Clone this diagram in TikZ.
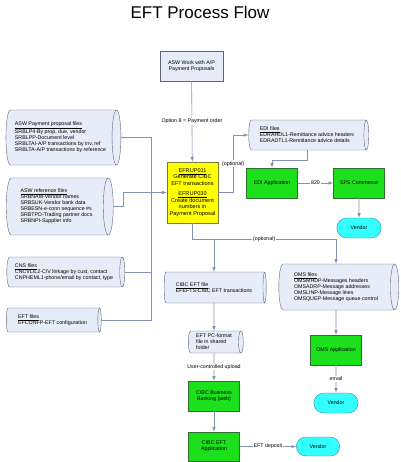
\documentclass[tikz,border=0pt]{standalone}
\usepackage{fontspec}
\setmainfont{Liberation Sans}
\usetikzlibrary{shapes.geometric,shapes.misc}
\definecolor{filebg}{HTML}{E6ECF8}
\definecolor{fileline}{HTML}{5E6678}
\definecolor{linec}{HTML}{8492B0}
\definecolor{tipc}{HTML}{4A5E9E}
\definecolor{appgreen}{HTML}{1BE01B}
\definecolor{appline}{HTML}{2E6E2E}
\definecolor{vendcyan}{HTML}{33FFFF}
\definecolor{vendline}{HTML}{3A8AA0}
\definecolor{progyel}{HTML}{FFFF00}
\definecolor{progline}{HTML}{7A7A3A}
\begin{document}
\begin{tikzpicture}[x=1pt, y=-1pt,
    small/.style={font=\fontsize{5.3}{6}\selectfont},
    file/.style={cylinder, draw=fileline, fill=filebg, aspect=0.27, align=left, inner sep=1pt, small},
    work/.style={rectangle, draw=fileline, fill=filebg, align=center, small},
    prog/.style={rectangle, draw=progline, fill=progyel, align=center, font=\fontsize{5.6}{6.7}\selectfont},
    app/.style={rectangle, draw=appline, fill=appgreen, align=center, minimum width=51pt, minimum height=30pt, small},
    vendor/.style={rounded rectangle, draw=vendline, fill=vendcyan, minimum width=51pt, minimum height=20pt, small},
    conn/.style={->, >=latex, draw=linec, line width=0.6pt},
    wire/.style={draw=linec, line width=0.6pt},
    lbl/.style={fill=white, inner sep=1pt, small}]
  \useasboundingbox (0,0) rectangle (400,462);
  \node[font=\fontsize{17}{20}\selectfont] (title) at (200,12) {EFT Process Flow};

  % main program
  \node[work, minimum width=63pt, minimum height=30pt] (asw) at (191.5,66) {ASW Work with A/P\\Payment Proposals};
  \node[prog, minimum width=51pt, minimum height=61pt, inner sep=1pt] (efr) at (192.5,192.5)
    {\underline{EFRUP011}\\Generate CIBC\\EFT transactions\\[3pt]\underline{EFRUP030}\\Create document\\numbers in\\Payment Proposal};

  % input files (cylinder: height is the axis, width the diameter)
  \node[file, minimum height=115pt, minimum width=55pt] (pp) at (60.5,137.5)
    {\underline{ASW Payment proposal files}\\SRBLP4-By prop, due, vendor\\SRBLPP-Document level\\SRBLTAI-A/P transactions by inv, ref\\SRBLTA-A/P transactions by reference};
  \node[file, minimum height=107pt, minimum width=57pt] (ref) at (56.5,206.5)
    {\underline{ASW reference files}\\SRBNAM-Vendor names\\SRBSUK-Vendor bank data\\SRBESN-e-conn sequence \#s\\SRBTPD-Trading partner docs\\SRBNPI-Supplier info};
  \node[file, minimum height=118pt, minimum width=30pt] (cns) at (64,272)
    {\underline{CNS files}\\CNCVLIL2-C/V linkage by cust, contact\\CNPHEML1-phone/email by contact, type};
  \node[file, minimum height=95pt, minimum width=24pt] (eftf) at (52.5,320)
    {\underline{EFT files}\\EFCONFP-EFT configuration};

  % EDI branch
  \node[file, minimum height=120pt, minimum width=30pt] (edif) at (307,135)
    {\underline{EDI files}\\EDRAHDL1-Remittance advice headers\\EDRADTL1-Remittance advice details};
  \node[app] (ediapp) at (272,183) {EDI Application};
  \node[app] (sps) at (359,183) {SPS Commerce};
  \node[vendor] (vend1) at (359,228) {Vendor};

  % CIBC branch
  \node[file, minimum height=102pt, minimum width=31pt] (cibcf) at (214,287.5)
    {\underline{CIBC EFT file}\\EFEFTS-CIBC EFT transactions};
  \node[file, minimum height=55pt, minimum width=22pt] (pcf) at (214,342)
    {EFT PC-format\\file in shared\\folder};
  \node[app] (cbb) at (214,396) {CIBC Business\\Banking (web)};
  \node[app, minimum height=29pt] (cea) at (214,446.5) {CIBC EFT\\Application};
  \node[vendor, minimum width=50pt, minimum height=19pt] (vend2) at (318,446.5) {Vendor};

  % OMS branch
  \node[file, minimum height=120pt, minimum width=46pt] (omsf) at (336,287)
    {\underline{OMS files}\\OMSMHDP-Messages headers\\OMSADRP-Message addresses\\OMSLINP-Message lines\\OMSQUEP-Message queue control};
  \node[app] (omsapp) at (336,350) {OMS Application};
  \node[vendor] (vend3) at (336,403) {Vendor};

  % connectors
  \coordinate (bus) at (151,192.5);
  \coordinate (optrow) at (0,239);
  \draw[conn] (asw) -- node[lbl, pos=0.5] {Option 8 = Payment order} (efr);
  \draw[wire] (pp.east) -| (bus);
  \draw[wire] (cns.east) -| (bus);
  \draw[wire] (eftf.east) -| (bus);
  \draw[conn] (ref.east) -- ++(10,0) |- (efr.west);
  \draw[conn] (efr.east) -- ++(15,0) |- node[lbl, pos=0.25] {(optional)} (edif.west);
  \draw[conn] (edif.south) -- ++(0,10) -| (ediapp.north);
  \draw[conn] (ediapp) -- node[lbl] {820} (sps);
  \draw[conn] (sps) -- (vend1);
  \draw[conn] (efr.south) |- node[lbl, pos=0.75] {(optional)} (omsf.north |- optrow) -- (omsf.north);
  \draw[conn] (cibcf.north |- optrow) -- (cibcf.north);
  \draw[conn] (cibcf.south) -- (pcf.north);
  \draw[conn] (pcf.south) -- node[lbl] {User-controlled upload} (cbb.north);
  \draw[conn] (cbb) -- (cea);
  \draw[conn] (cea) -- node[lbl] {EFT deposit} (vend2);
  \draw[conn] (omsf.south) -- (omsapp.north);
  \draw[conn] (omsapp) -- node[lbl] {email} (vend3);
\end{tikzpicture}
\end{document}
